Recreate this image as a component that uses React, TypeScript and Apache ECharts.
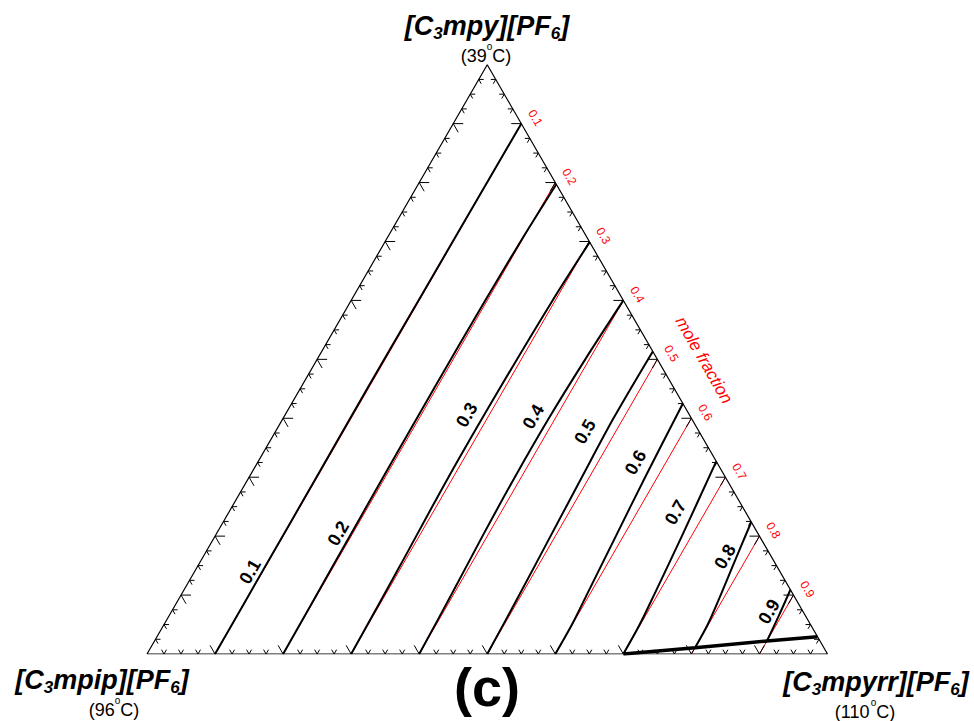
import React, { useEffect, useRef } from "react";
import * as echarts from "echarts";

const SQ = Math.sqrt(3) / 2;
const FONT = '"Liberation Sans", Arial, Helvetica, sans-serif';

// Straight reference composition lines: mole fraction of [C3mpyrr][PF6]
const isoValues = [0.1, 0.2, 0.3, 0.4, 0.5, 0.6, 0.7, 0.8, 0.9];
const isoLabels = ["0.1", "0.2", "0.3", "0.4", "0.5", "0.6", "0.7", "0.8", "0.9"];

// Measured curves: a = fraction of [C3mpy][PF6] (top), c = fraction of [C3mpyrr][PF6] (right)
const curve1A = [0, 0.15, 0.3, 0.45, 0.6, 0.75, 0.9];
const curve1C = [0.1, 0.0995, 0.099, 0.0985, 0.099, 0.0995, 0.1];
const curve2A = [0, 0.15, 0.3, 0.45, 0.6, 0.7, 0.797];
const curve2C = [0.2, 0.1985, 0.197, 0.1965, 0.197, 0.199, 0.203];
const curve3A = [0, 0.15, 0.3, 0.45, 0.6, 0.699];
const curve3C = [0.3, 0.297, 0.293, 0.293, 0.296, 0.301];
const curve4A = [0, 0.1, 0.2, 0.3, 0.4, 0.5, 0.6];
const curve4C = [0.4, 0.397, 0.393, 0.3905, 0.3905, 0.394, 0.4];
const curve5A = [0, 0.1, 0.2, 0.3, 0.4, 0.5135];
const curve5C = [0.5, 0.497, 0.493, 0.489, 0.4855, 0.4865];
const curve6A = [0, 0.05, 0.1, 0.2, 0.3, 0.425];
const curve6C = [0.6, 0.5995, 0.596, 0.589, 0.582, 0.575];
const curve7A = [0, 0.05, 0.1, 0.2, 0.327];
const curve7C = [0.7, 0.699, 0.695, 0.686, 0.673];
const curve8A = [0.0102, 0.05, 0.1, 0.15, 0.224];
const curve8C = [0.8, 0.799, 0.793, 0.786, 0.776];
const curve9A = [0.022, 0.065, 0.109];
const curve9C = [0.9, 0.896, 0.891];

// Thick boundary line near the bottom-right
const boundaryA = [0, 0.0107, 0.022, 0.0294];
const boundaryC = [0.7, 0.8, 0.9, 0.9706];

// Curve label anchor compositions
const labelA = [0.1397, 0.2048, 0.4056, 0.4027, 0.3772, 0.325, 0.2401, 0.1651, 0.0718];
const labelC = [0.0815, 0.1787, 0.267, 0.3664, 0.455, 0.5553, 0.6565, 0.7668, 0.8781];

// Ticks
const tickStep = 0.025;
const tickCount = 39;
const majorEvery = 4;

const curvesA = [curve1A, curve2A, curve3A, curve4A, curve5A, curve6A, curve7A, curve8A, curve9A];
const curvesC = [curve1C, curve2C, curve3C, curve4C, curve5C, curve6C, curve7C, curve8C, curve9C];

const toXY = (a: number, c: number) => [c + a / 2, a * SQ];

const EDGE_DIRS = [
  [[0.5, -SQ], [-0.5, -SQ]], // bottom
  [[1, 0], [0.5, SQ]], // left
  [[-1, 0], [-0.5, SQ]], // right
];

// Degree label "(NN°C)" built from three texts
function degLabel(cx: number, cy: number, num: string) {
  const fs = 18;
  const w1 = (0.333 + 0.556 * num.length) * fs;
  const wo = 0.556 * 10;
  const w2 = (0.722 + 0.333) * fs;
  const x0 = cx - (w1 + wo + w2) / 2;
  return [
    { type: "text", x: x0, y: cy, style: { text: "(" + num, fontSize: fs, fontFamily: FONT, fill: "#000", align: "left", verticalAlign: "middle" } },
    { type: "text", x: x0 + w1 + wo / 2, y: cy - 9.5, style: { text: "o", fontSize: 10, fontFamily: FONT, fill: "#000", align: "center", verticalAlign: "middle" } },
    { type: "text", x: x0 + w1 + wo, y: cy, style: { text: "C)", fontSize: fs, fontFamily: FONT, fill: "#000", align: "left", verticalAlign: "middle" } },
  ];
}

export default function App() {
  const ref = useRef<HTMLDivElement>(null);
  useEffect(() => {
    if (!ref.current) return;
    const chart = echarts.init(ref.current, undefined, { renderer: "svg" });

    const series: any[] = [];

    isoValues.forEach((k) => {
      series.push({
        type: "line",
        data: [toXY(0, k), toXY(1 - k, k)],
        symbol: "none",
        lineStyle: { color: "#ff0000", width: 1 },
        silent: true,
        z: 2,
      });
    });

    curvesA.forEach((arr, i) => {
      series.push({
        type: "line",
        data: arr.map((a, j) => toXY(a, curvesC[i][j])),
        symbol: "none",
        smooth: 0.3,
        lineStyle: { color: "#000", width: 2 },
        silent: true,
        z: 3,
      });
    });

    series.push({
      type: "line",
      data: boundaryA.map((a, j) => toXY(a, boundaryC[j])),
      symbol: "none",
      lineStyle: { color: "#000", width: 3.5 },
      silent: true,
      z: 4,
    });

    series.push({
      type: "line",
      data: [toXY(0, 0), toXY(0, 1), toXY(1, 0), toXY(0, 0)],
      symbol: "none",
      lineStyle: { color: "#000", width: 1.2 },
      silent: true,
      z: 5,
    });

    const tickData: number[][] = [];
    for (let i = 1; i <= tickCount; i++) {
      const t = i * tickStep;
      const major = i % majorEvery === 0 ? 1 : 0;
      tickData.push([t, 0, 0, major]);
      tickData.push([t / 2, t * SQ, 1, major]);
      tickData.push([1 - t / 2, t * SQ, 2, major]);
    }
    series.push({
      type: "custom",
      data: tickData,
      encode: { x: 0, y: 1 },
      silent: true,
      z: 5,
      renderItem: (_p: any, api: any) => {
        const p = api.coord([api.value(0), api.value(1)]);
        const dirs = EDGE_DIRS[api.value(2)];
        const len = api.value(3) ? 10 : 5;
        return {
          type: "group",
          children: dirs.map((d) => ({
            type: "line",
            shape: { x1: p[0], y1: p[1], x2: p[0] + d[0] * len, y2: p[1] + d[1] * len },
            style: { stroke: "#000", lineWidth: 1 },
          })),
        };
      },
    });

    // red mole-fraction labels along the right edge
    series.push({
      type: "custom",
      data: isoValues.map((k, i) => [...toXY(1 - k, k), i]),
      encode: { x: 0, y: 1 },
      silent: true,
      z: 6,
      renderItem: (_p: any, api: any) => {
        const p = api.coord([api.value(0), api.value(1)]);
        const nx = SQ, ny = -0.5, tx = 0.5, ty = SQ;
        return {
          type: "text",
          x: p[0] + nx * 15 + tx * 2,
          y: p[1] + ny * 15 + ty * 2,
          rotation: -Math.PI / 3,
          style: {
            text: isoLabels[api.value(2)],
            fill: "#ff0000",
            fontSize: 12,
            fontFamily: FONT,
            align: "center",
            verticalAlign: "middle",
          },
        };
      },
    });

    // black curve labels
    series.push({
      type: "custom",
      data: labelA.map((a, i) => [...toXY(a, labelC[i]), i]),
      encode: { x: 0, y: 1 },
      silent: true,
      z: 6,
      renderItem: (_p: any, api: any) => {
        const p = api.coord([api.value(0), api.value(1)]);
        return {
          type: "text",
          x: p[0],
          y: p[1],
          rotation: Math.PI / 3,
          style: {
            text: isoLabels[api.value(2)],
            fill: "#000",
            fontSize: 18,
            fontWeight: "bold",
            fontFamily: FONT,
            align: "center",
            verticalAlign: "middle",
          },
        };
      },
    });

    const main = { fontSize: 27, fontWeight: "bold", fontStyle: "italic", fontFamily: FONT, fill: "#000", lineHeight: 31 };
    const sub = { fontSize: 17, fontWeight: "bold", fontStyle: "italic", fontFamily: FONT, fill: "#000", verticalAlign: "bottom" };

    const option: any = {
      animation: false,
      backgroundColor: "#fff",
      grid: { left: 147, top: 64.7, width: 680.5, height: 589.3 },
      xAxis: { type: "value", min: 0, max: 1, show: false },
      yAxis: { type: "value", min: 0, max: SQ, show: false },
      series,
      graphic: [
        {
          type: "text", x: 487, y: 26,
          style: { text: "{m|[C}{s|3}{m|mpy][PF}{s|6}{m|]}", rich: { m: main, s: sub }, align: "center", verticalAlign: "middle" },
        },
        ...degLabel(486, 56, "39"),
        {
          type: "text", x: 102, y: 680,
          style: { text: "{m|[C}{s|3}{m|mpip][PF}{s|6}{m|]}", rich: { m: main, s: sub }, align: "center", verticalAlign: "middle" },
        },
        ...degLabel(114, 710, "96"),
        {
          type: "text", x: 876, y: 682,
          style: { text: "{m|[C}{s|3}{m|mpyrr][PF}{s|6}{m|]}", rich: { m: main, s: sub }, align: "center", verticalAlign: "middle" },
        },
        ...degLabel(865, 712, "110"),
        {
          type: "text", x: 487, y: 687,
          style: { text: "(c)", fontSize: 54, fontWeight: "bold", fontFamily: FONT, fill: "#000", align: "center", verticalAlign: "middle" },
        },
        {
          type: "text", x: 704, y: 360, rotation: -Math.PI / 3,
          style: { text: "mole fraction", fontSize: 17, fontStyle: "italic", fontFamily: FONT, fill: "#ff0000", align: "center", verticalAlign: "middle" },
        },
      ],
    };
    chart.setOption(option);
    return () => chart.dispose();
  }, []);
  return <div ref={ref} style={{ position: "fixed", left: 0, top: 0, width: 974, height: 721, background: "#fff" }} />;
}
